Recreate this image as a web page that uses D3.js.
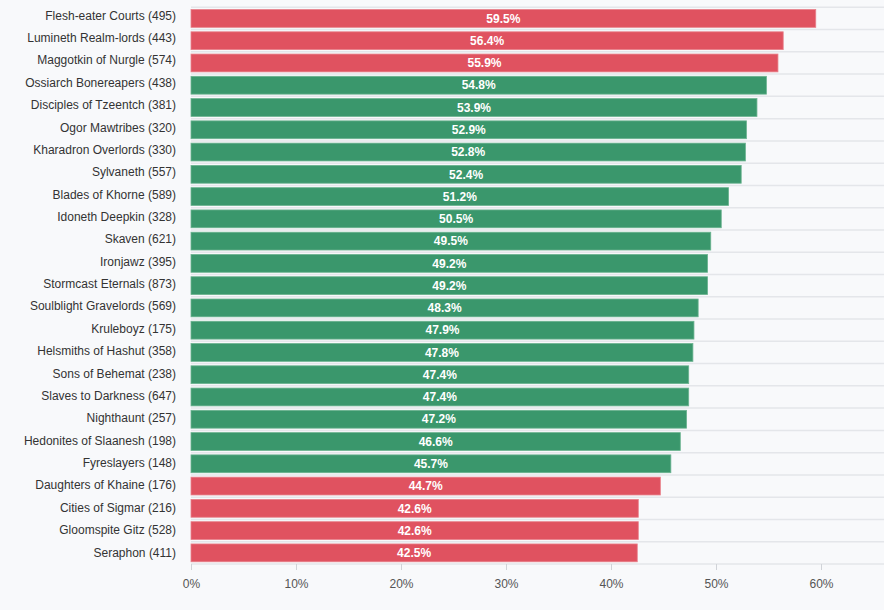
<!DOCTYPE html>
<html>
<head>
<meta charset="utf-8">
<script src="https://cdn.jsdelivr.net/npm/d3@7"></script>
<style>
    html, body { margin: 0; padding: 0; background: #f8f9fb; }
    svg { display: block; font-family: "Liberation Sans", Arial, sans-serif; }
</style>
</head>
<body>
<div id="chart"></div>
<script>
// faction names, games played, win rate (%)
let factions = ["Flesh-eater Courts", "Lumineth Realm-lords", "Maggotkin of Nurgle", "Ossiarch Bonereapers",
    "Disciples of Tzeentch", "Ogor Mawtribes", "Kharadron Overlords", "Sylvaneth", "Blades of Khorne",
    "Idoneth Deepkin", "Skaven", "Ironjawz", "Stormcast Eternals", "Soulblight Gravelords", "Kruleboyz",
    "Helsmiths of Hashut", "Sons of Behemat", "Slaves to Darkness", "Nighthaunt", "Hedonites of Slaanesh",
    "Fyreslayers", "Daughters of Khaine", "Cities of Sigmar", "Gloomspite Gitz", "Seraphon"];
let games = [495, 443, 574, 438, 381, 320, 330, 557, 589, 328, 621, 395, 873, 569, 175,
    358, 238, 647, 257, 198, 148, 176, 216, 528, 411];
let winRates = [59.5, 56.4, 55.9, 54.8, 53.9, 52.9, 52.8, 52.4, 51.2, 50.5, 49.5, 49.2, 49.2, 48.3, 47.9,
    47.8, 47.4, 47.4, 47.2, 46.6, 45.7, 44.7, 42.6, 42.6, 42.5];
let xTicks = [0, 10, 20, 30, 40, 50, 60];

let w = 884;
let h = 610;
let marginLeft = 191, marginTop = 7.3, axisY = 564;

let dataset = factions.map(function (f, i) {
    return { label: f + " (" + games[i] + ")", value: winRates[i] };
});

let svg = d3.select("#chart")
    .append("svg")
    .attr("width", w)
    .attr("height", h);

let x = d3.scaleLinear().domain([0, 66]).range([marginLeft, w]);
let y = d3.scaleBand()
    .domain(dataset.map(function (d) { return d.label; }))
    .range([marginTop, axisY])
    .paddingInner(0.2)
    .paddingOuter(0.1);

// the category labels sit slightly off the bars' centres
let yLabel = y.copy().range([marginTop - 3, axisY - 0.5]);

// row separators
let step = y.step();
svg.selectAll("line.row")
    .data(d3.range(dataset.length))
    .enter()
    .append("line")
    .attr("class", "row")
    .attr("x1", marginLeft)
    .attr("x2", w)
    .attr("y1", function (i) { return marginTop + i * step; })
    .attr("y2", function (i) { return marginTop + i * step; })
    .attr("stroke", "#e4e6ea")
    .attr("stroke-width", 1.5);

svg.append("line")
    .attr("x1", marginLeft)
    .attr("x2", w)
    .attr("y1", axisY)
    .attr("y2", axisY)
    .attr("stroke", "#e4e6ea")
    .attr("stroke-width", 1.5);

function isOutlier(v) {
    return v > 55 || v < 45;
}

svg.selectAll("rect.bar")
    .data(dataset)
    .enter()
    .append("rect")
    .attr("class", "bar")
    .attr("x", x(0))
    .attr("y", function (d) { return y(d.label); })
    .attr("width", function (d) { return x(d.value) - x(0); })
    .attr("height", y.bandwidth())
    .attr("fill", function (d) {
        return isOutlier(d.value) ? "#e05260" : "#3a976c";
    })
    .attr("stroke", function (d) {
        return isOutlier(d.value) ? "#e8808a" : "#6bb390";
    })
    .attr("stroke-width", 0.8);

svg.selectAll("text.value")
    .data(dataset)
    .enter()
    .append("text")
    .attr("class", "value")
    .text(function (d) { return d.value.toFixed(1) + "%"; })
    .attr("text-anchor", "middle")
    .attr("x", function (d) { return (x(0) + x(d.value)) / 2; })
    .attr("y", function (d) { return y(d.label) + y.bandwidth() / 2; })
    .attr("dy", "0.35em")
    .attr("font-size", "12px")
    .attr("font-weight", "bold")
    .attr("fill", "white");

svg.selectAll("text.label")
    .data(dataset)
    .enter()
    .append("text")
    .attr("class", "label")
    .text(function (d) { return d.label; })
    .attr("text-anchor", "end")
    .attr("x", marginLeft - 15)
    .attr("y", function (d) { return yLabel(d.label) + yLabel.bandwidth() / 2; })
    .attr("dy", "0.35em")
    .attr("font-size", "12px")
    .attr("fill", "#333");

let xAxis = d3.axisBottom(x)
    .tickValues(xTicks)
    .tickFormat(function (d) { return d + "%"; })
    .tickSize(6)
    .tickPadding(9);

let axisG = svg.append("g")
    .attr("transform", "translate(0," + axisY + ")")
    .call(xAxis);
axisG.select(".domain").remove();
axisG.selectAll(".tick line").attr("stroke", "#d0d3d8");
axisG.selectAll(".tick text")
    .attr("fill", "#555")
    .attr("font-size", "12px")
    .attr("font-family", "'Liberation Sans', Arial, sans-serif");
</script>
</body>
</html>
